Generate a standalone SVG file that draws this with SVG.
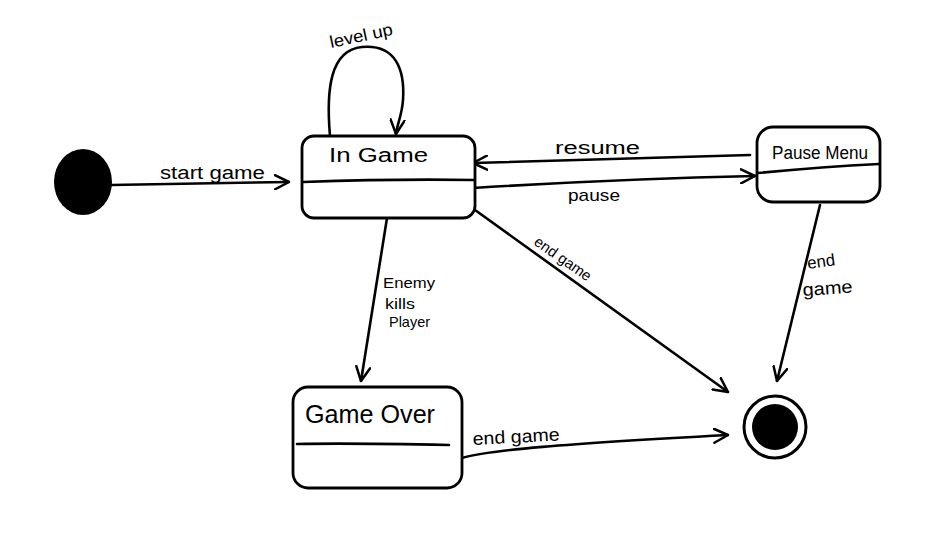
<svg xmlns="http://www.w3.org/2000/svg" width="933" height="536" viewBox="0 0 933 536">
<style>
.ln{fill:none;stroke:#000;stroke-width:2.6;stroke-linecap:round;stroke-linejoin:round}
.box{fill:#fff;stroke:#000;stroke-width:2.8}
.t{font-family:"Liberation Sans",Arial,sans-serif;fill:#000}
</style>
<defs>
<marker id="arr" viewBox="0 0 16 16" refX="15" refY="8" markerWidth="16" markerHeight="16" markerUnits="userSpaceOnUse" orient="auto">
<path d="M1,1 L15,8 L1,15" fill="none" stroke="#000" stroke-width="2.5" stroke-linecap="round" stroke-linejoin="round"/>
</marker>
</defs>
<rect width="933" height="536" fill="#fff"/>
<g id="connectors">
<path class="ln" d="M111,185 C160,184 230,183 289,182" marker-end="url(#arr)"/>
<text class="t" x="160" y="179" font-size="18" textLength="105" lengthAdjust="spacingAndGlyphs">start game</text>
<path class="ln" d="M330,136 C326,90 330,50 362,47 C396,44 405,70 403,100 C402,115 397,125 396,134" marker-end="url(#arr)"/>
<text class="t" x="0" y="0" font-size="17" textLength="64" lengthAdjust="spacingAndGlyphs" transform="translate(331,48) rotate(-12)">level up</text>
<path class="ln" d="M750,155 C650,158 560,161 473,163" marker-end="url(#arr)"/>
<text class="t" x="555" y="154" font-size="18" textLength="85" lengthAdjust="spacingAndGlyphs">resume</text>
<path class="ln" d="M473,188 C570,182 660,178 755,176" marker-end="url(#arr)"/>
<text class="t" x="568" y="201" font-size="17" textLength="52" lengthAdjust="spacingAndGlyphs">pause</text>
<path class="ln" d="M475,210 L728,392" marker-end="url(#arr)"/>
<text class="t" x="0" y="0" font-size="15" textLength="66" lengthAdjust="spacingAndGlyphs" transform="translate(533,244) rotate(35)">end game</text>
<path class="ln" d="M820,205 L777,381" marker-end="url(#arr)"/>
<text class="t" x="0" y="0" font-size="17" textLength="28" lengthAdjust="spacingAndGlyphs" transform="translate(808,269) rotate(-8)">end</text>
<text class="t" x="0" y="0" font-size="18" textLength="50" lengthAdjust="spacingAndGlyphs" transform="translate(803,296) rotate(-4)">game</text>
<path class="ln" d="M387,218 L361,381" marker-end="url(#arr)"/>
<text class="t" x="383" y="288" font-size="15" textLength="52" lengthAdjust="spacingAndGlyphs">Enemy</text>
<text class="t" x="385" y="309" font-size="15" textLength="30" lengthAdjust="spacingAndGlyphs">kills</text>
<text class="t" x="389" y="327" font-size="15" textLength="41" lengthAdjust="spacingAndGlyphs">Player</text>
<path class="ln" d="M462,458 C490,450 560,444 728,435" marker-end="url(#arr)"/>
<text class="t" x="0" y="0" font-size="18" textLength="87" lengthAdjust="spacingAndGlyphs" transform="translate(473,445) rotate(-3)">end game</text>
</g>
<g id="start">
<ellipse cx="83" cy="182" rx="29" ry="33" fill="#000"/>
</g>
<g id="in-game">
<rect class="box" x="302" y="136" width="173" height="82" rx="12"/>
<path class="ln" d="M303,182 C360,180 420,179 474,180"/>
<text class="t" x="329" y="162" font-size="20" textLength="99" lengthAdjust="spacingAndGlyphs">In Game</text>
</g>
<g id="pause-menu">
<rect class="box" x="757" y="127" width="123" height="75" rx="16"/>
<path class="ln" d="M758,173 C800,169 840,166 879,164"/>
<text class="t" x="772" y="159" font-size="18" textLength="96" lengthAdjust="spacingAndGlyphs">Pause Menu</text>
</g>
<g id="game-over">
<rect class="box" x="293" y="387" width="169" height="101" rx="15"/>
<path class="ln" d="M297,444 C350,443 400,444 449,445"/>
<text class="t" x="305" y="423" font-size="26" textLength="130" lengthAdjust="spacingAndGlyphs">Game Over</text>
</g>
<g id="end">
<circle cx="775" cy="427" r="31" fill="#fff" stroke="#000" stroke-width="3"/>
<circle cx="775" cy="427" r="23" fill="#000"/>
</g>
</svg>
